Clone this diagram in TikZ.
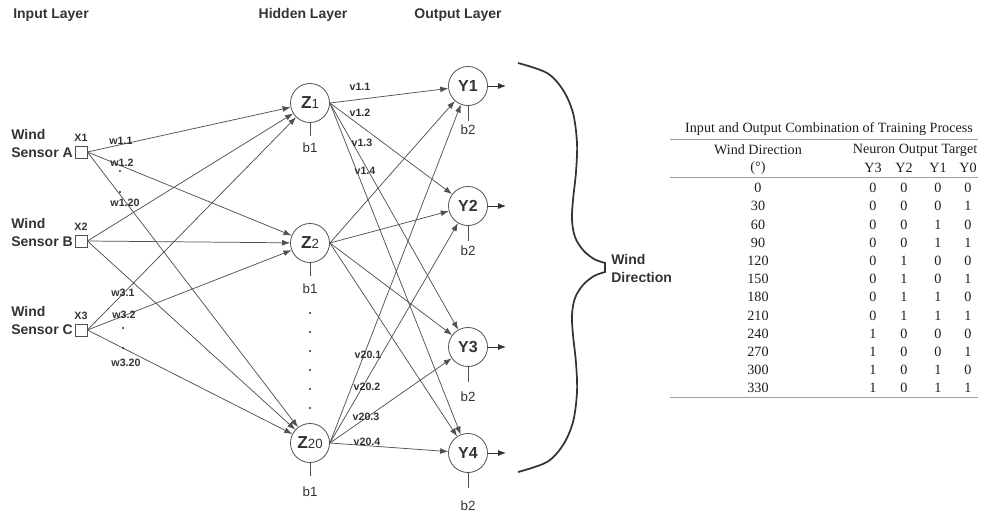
\documentclass[tikz,border=0pt]{standalone}
\usepackage{fontspec}
\setmainfont{Liberation Serif}
\newfontfamily\arialfont{Liberation Sans}
\usetikzlibrary{arrows.meta}

\definecolor{ink}{HTML}{333333}
\definecolor{linegray}{HTML}{505050}
\definecolor{rulegray}{HTML}{A0A0A0}
\definecolor{tabink}{HTML}{1E1E1E}

\tikzset{
  wire/.style={draw=linegray, line width=0.55pt},
  arr/.style={wire, -{Latex[length=6pt,width=4.4pt]}},
  outarr/.style={draw=ink, line width=0.7pt, -{Latex[length=6pt,width=4.6pt]}},
  neuron/.style={circle, draw=linegray, line width=0.6pt, minimum size=29.25pt,
    inner sep=0pt, text=ink},
  inbox/.style={rectangle, draw=linegray, line width=0.6pt, minimum size=9pt, inner sep=0pt},
  header/.style={font=\arialfont\bfseries\fontsize{10.5}{12}\selectfont, text=ink, inner sep=0pt},
  sensor/.style={font=\arialfont\bfseries\fontsize{10.5}{13.5}\selectfont, text=ink,
    align=left, inner sep=0pt, anchor=west},
  wlab/.style={font=\arialfont\bfseries\fontsize{8}{9}\selectfont, text=ink, inner sep=0pt},
  blab/.style={font=\arialfont\fontsize{10}{11}\selectfont, text=ink, inner sep=0pt},
  brace/.style={draw=ink, line width=1.3pt},
  tcell/.style={font=\fontsize{10.6}{11}\selectfont, text=tabink, inner sep=0pt},
  rule/.style={draw=rulegray, line width=0.6pt},
}

\newcommand{\zlabel}[1]{{\arialfont\bfseries\fontsize{13}{13}\selectfont Z}{\arialfont\fontsize{10}{11}\selectfont #1}}
\newcommand{\ylabel}[1]{{\arialfont\bfseries\fontsize{12}{13}\selectfont Y#1}}

\begin{document}
\begin{tikzpicture}[x=0.75pt, y=-0.75pt]
\useasboundingbox (0,0) rectangle (982,515);

% layer titles
\node[header, anchor=west] (tin) at (13,15) {Input Layer};
\node[header] (thid) at (303,15) {Hidden Layer};
\node[header] (tout) at (458,15) {Output Layer};

% input units
\node[inbox] (x1) at (81,152) {};
\node[inbox] (x2) at (81,241) {};
\node[inbox] (x3) at (81,330) {};
\node[wlab] (lx1) at (81,138) {X1};
\node[wlab] (lx2) at (81,227) {X2};
\node[wlab] (lx3) at (81,316) {X3};
\node[sensor] (sa) at (11,143) {Wind\\Sensor A};
\node[sensor] (sb) at (11,232) {Wind\\Sensor B};
\node[sensor] (sc) at (11,320) {Wind\\Sensor C};

% hidden units
\node[neuron] (z1) at (310,103) {\zlabel{1}};
\node[neuron] (z2) at (310,243) {\zlabel{2}};
\node[neuron] (z20) at (310,443) {\zlabel{20}};

% output units
\node[neuron] (y1) at (468,86) {\ylabel{1}};
\node[neuron] (y2) at (468,206) {\ylabel{2}};
\node[neuron] (y3) at (468,347) {\ylabel{3}};
\node[neuron] (y4) at (468,453) {\ylabel{4}};

% input -> hidden weights
\foreach \s in {x1,x2,x3}
  \foreach \t in {z1,z2,z20}
    \draw[arr] (\s.east) -- (\t);

% hidden -> output weights
\foreach \s in {z1,z2,z20}
  \foreach \t in {y1,y2,y3,y4}
    \draw[arr] (\s.east) -- (\t);

% bias taps
\foreach \n in {z1,z2,z20}
  \draw[wire] (\n.south) -- ++(0,13);
\foreach \n in {y1,y2,y3,y4}
  \draw[wire] (\n.south) -- ++(0,15);
\node[blab] (bz1) at (310,148) {b1};
\node[blab] (bz2) at (310,289) {b1};
\node[blab] (bz20) at (310,492) {b1};
\node[blab] (by1) at (468,130) {b2};
\node[blab] (by2) at (468,251) {b2};
\node[blab] (by3) at (468,397) {b2};
\node[blab] (by4) at (468,506) {b2};

% output arrows
\coordinate (o1) at (506,86);
\coordinate (o2) at (506,206);
\coordinate (o3) at (506,347);
\coordinate (o4) at (506,453);
\draw[outarr] (y1.east) -- (o1);
\draw[outarr] (y2.east) -- (o2);
\draw[outarr] (y3.east) -- (o3);
\draw[outarr] (y4.east) -- (o4);

% weight labels
\node[wlab] (w11) at (121,141) {w1.1};
\node[wlab] (w12) at (122,163) {w1.2};
\node[wlab] (w120) at (125,203) {w1.20};
\node[wlab] (w31) at (123,293) {w3.1};
\node[wlab] (w32) at (124,315) {w3.2};
\node[wlab] (w320) at (126,363) {w3.20};
\node[wlab] (v11) at (360,87) {v1.1};
\node[wlab] (v12) at (360,113) {v1.2};
\node[wlab] (v13) at (362,143) {v1.3};
\node[wlab] (v14) at (365,171) {v1.4};
\node[wlab] (v201) at (368,355) {v20.1};
\node[wlab] (v202) at (367,387) {v20.2};
\node[wlab] (v203) at (366,417) {v20.3};
\node[wlab] (v204) at (367,442) {v20.4};

% ellipsis dots
\foreach \px/\py in {120/171, 120/192, 123/328, 123/348}
  \fill[ink] (\px,\py) circle[radius=0.8pt];
\foreach \py in {313,332,351,370,389,408}
  \fill[ink] (310,\py) circle[radius=0.8pt];

% curly brace gathering the outputs
\draw[brace] plot[smooth, tension=0.55] coordinates {(518,63) (547,73) (563,90) (573,113) (577,143) (576,172) (573,200) (572,220) (575,237) (583,250) (594,259) (605,263)}
  -- plot[smooth, tension=0.55] coordinates {(605,272) (594,276) (583,285) (575,298) (572,315) (573,335) (576,363) (577,392) (573,422) (563,445) (547,462) (518,472)};
\node[sensor] (wd) at (611,268) {Wind\\Direction};

% training table
\node[tcell] (ttitle) at (829,129) {Input and Output Combination of Training Process};
\draw[rule] (670,139) -- (978,139);
\node[tcell] (hwd) at (758,150) {Wind Direction};
\node[tcell] (hnt) at (915,150) {Neuron Output Target};
\node[tcell] (hdeg) at (758,168) {(°)};
\node[tcell] (hy3) at (873,168) {Y3};
\node[tcell] (hy2) at (904,168) {Y2};
\node[tcell] (hy1) at (938,168) {Y1};
\node[tcell] (hy0) at (968,168) {Y0};
\draw[rule] (670,177) -- (978,177);
\foreach \deg/\a/\b/\c/\d [count=\i from 0] in
  {0/0/0/0/0, 30/0/0/0/1, 60/0/0/1/0, 90/0/0/1/1,
   120/0/1/0/0, 150/0/1/0/1, 180/0/1/1/0, 210/0/1/1/1,
   240/1/0/0/0, 270/1/0/0/1, 300/1/0/1/0, 330/1/0/1/1} {
  \pgfmathsetmacro\yy{188+18.2*\i}
  \node[tcell] (r\i d) at (758,\yy) {\deg};
  \node[tcell] (r\i a) at (873,\yy) {\a};
  \node[tcell] (r\i b) at (904,\yy) {\b};
  \node[tcell] (r\i c) at (938,\yy) {\c};
  \node[tcell] (r\i e) at (968,\yy) {\d};
}
\draw[rule] (670,397) -- (978,397);
\end{tikzpicture}
\end{document}
